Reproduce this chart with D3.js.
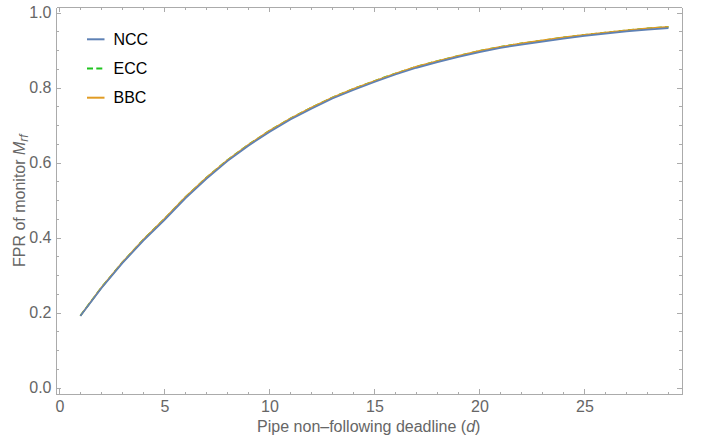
<!DOCTYPE html>
<html lang="en">
<head>
    <meta charset="UTF-8">
    <title>FPR of monitor vs deadline</title>
    <script src="https://d3js.org/d3.v7.min.js"></script>
    <style>
        body { margin: 0; background: #fff; font-family: "Liberation Sans", Arial, sans-serif; }
        .axis path, .axis line { stroke: #ababab; shape-rendering: crispEdges; }
        .axis text { fill: #666; font-size: 16px; font-family: "Liberation Sans", Arial, sans-serif; }
    </style>
</head>
<body>
    <svg width="701" height="438"></svg>

    <script>
        // deadline values and the three curves
        const deadline = d3.range(1, 30);
        const ncc = [0.191, 0.265, 0.332, 0.392, 0.447, 0.505, 0.557, 0.604, 0.645, 0.682,
                     0.715, 0.744, 0.771, 0.794, 0.815, 0.835, 0.853, 0.868, 0.882, 0.895,
                     0.906, 0.915, 0.923, 0.931, 0.938, 0.944, 0.950, 0.955, 0.959];
        const ecc = [0.192, 0.267, 0.334, 0.395, 0.450, 0.508, 0.560, 0.607, 0.648, 0.685,
                     0.718, 0.747, 0.774, 0.797, 0.818, 0.838, 0.856, 0.871, 0.885, 0.898,
                     0.909, 0.918, 0.926, 0.934, 0.941, 0.947, 0.953, 0.958, 0.962];
        const bbc = [0.192, 0.267, 0.334, 0.395, 0.450, 0.508, 0.560, 0.607, 0.648, 0.685,
                     0.718, 0.747, 0.774, 0.797, 0.818, 0.838, 0.856, 0.871, 0.885, 0.898,
                     0.909, 0.918, 0.926, 0.934, 0.941, 0.947, 0.953, 0.958, 0.962];
        const xTicks = [0, 5, 10, 15, 20, 25];
        const yTicks = [0, 0.2, 0.4, 0.6, 0.8, 1.0];

        const series = [
            {name: "NCC", values: ncc, color: "#5e81b5", dash: null},
            {name: "ECC", values: ecc, color: "#1fc41f", dash: "6,3.3"},
            {name: "BBC", values: bbc, color: "#e19c24", dash: null}
        ];

        const svg = d3.select("svg");
        const mLeft = 56, mRight = 681.5, mTop = 7.3, mBottom = 394;

        const x = d3.scaleLinear().domain([-0.16, 29.62]).range([mLeft, mRight]);
        const y = d3.scaleLinear().domain([-0.017, 1.0144]).range([mBottom, mTop]);

        // frame + ticks
        svg.append("g").attr("class", "axis")
            .attr("transform", `translate(0,${mBottom})`)
            .call(d3.axisBottom(x).tickValues(d3.range(0, 30)).tickSize(-2.5).tickSizeOuter(0).tickFormat(""));
        svg.append("g").attr("class", "axis")
            .attr("transform", `translate(0,${mBottom})`)
            .call(d3.axisBottom(x).tickValues(xTicks).tickSize(-5).tickSizeOuter(0).tickPadding(6.5))
            .call(g => g.select(".domain").remove());
        svg.append("g").attr("class", "axis")
            .attr("transform", `translate(0,${mTop})`)
            .call(d3.axisTop(x).tickValues(d3.range(0, 30)).tickSize(-2.5).tickSizeOuter(0).tickFormat(""));
        svg.append("g").attr("class", "axis")
            .attr("transform", `translate(0,${mTop})`)
            .call(d3.axisTop(x).tickValues(xTicks).tickSize(-5).tickSizeOuter(0).tickFormat(""))
            .call(g => g.select(".domain").remove());

        svg.append("g").attr("class", "axis")
            .attr("transform", `translate(${mLeft},0)`)
            .call(d3.axisLeft(y).tickValues(d3.range(0, 1.01, 0.05)).tickSize(-2.5).tickSizeOuter(0).tickFormat(""));
        svg.append("g").attr("class", "axis")
            .attr("transform", `translate(${mLeft},0)`)
            .call(d3.axisLeft(y).tickValues(yTicks).tickSize(-5).tickSizeOuter(0).tickPadding(4.5).tickFormat(d3.format(".1f")))
            .call(g => g.select(".domain").remove());
        svg.append("g").attr("class", "axis")
            .attr("transform", `translate(${mRight},0)`)
            .call(d3.axisRight(y).tickValues(d3.range(0, 1.01, 0.05)).tickSize(-2.5).tickSizeOuter(0).tickFormat(""));
        svg.append("g").attr("class", "axis")
            .attr("transform", `translate(${mRight},0)`)
            .call(d3.axisRight(y).tickValues(yTicks).tickSize(-5).tickSizeOuter(0).tickFormat(""))
            .call(g => g.select(".domain").remove());

        // curves: ECC underneath, then BBC, NCC on top
        const line = d3.line().x((v, i) => x(deadline[i])).y(v => y(v));
        [series[1], series[2], series[0]].forEach(s => {
            svg.append("path")
                .datum(s.values)
                .attr("d", line)
                .attr("fill", "none")
                .attr("stroke", s.color)
                .attr("stroke-width", 1.7)
                .attr("stroke-dasharray", s.dash);
        });

        // legend
        const legend = svg.append("g").attr("transform", "translate(87,39.3)");
        series.forEach((s, i) => {
            const row = legend.append("g").attr("transform", `translate(0,${i * 29.2})`);
            row.append("line")
                .attr("x1", 0).attr("x2", 17.5)
                .attr("stroke", s.color).attr("stroke-width", 2)
                .attr("stroke-dasharray", s.dash);
            row.append("text")
                .attr("x", 26.5).attr("y", 5.6)
                .attr("font-size", 16).attr("fill", "#000")
                .text(s.name);
        });

        // axis labels
        const xl = svg.append("text")
            .attr("x", (mLeft + mRight) / 2).attr("y", 432)
            .attr("text-anchor", "middle")
            .attr("font-size", 16).attr("fill", "#666");
        xl.append("tspan").text("Pipe non\u2013following deadline (");
        xl.append("tspan").attr("font-style", "italic").text("d");
        xl.append("tspan").text(")");

        const yl = svg.append("text")
            .attr("transform", `translate(25,${(mTop + mBottom) / 2}) rotate(-90)`)
            .attr("text-anchor", "middle")
            .attr("font-size", 16).attr("fill", "#666");
        yl.append("tspan").text("FPR of monitor ");
        yl.append("tspan").attr("font-style", "italic").text("M");
        yl.append("tspan").attr("font-style", "italic").attr("font-size", 12).attr("dy", 3).text("rf");
    </script>
</body>
</html>
